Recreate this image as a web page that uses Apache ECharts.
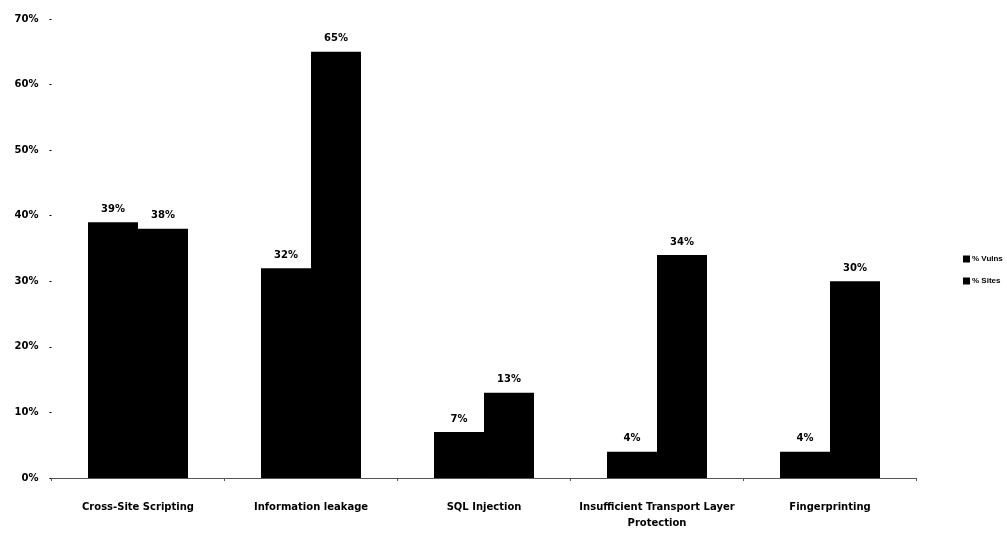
<!DOCTYPE html>
<html>
<head>
<meta charset="utf-8">
<script src="https://cdn.jsdelivr.net/npm/echarts@6/dist/echarts.min.js"></script>
<style>
  html, body { margin: 0; padding: 0; background: #fff; }
  #chart { width: 1007px; height: 534px; }
</style>
</head>
<body>
<div id="chart"></div>
<script>
// Web application vulnerability classes: share of vulnerabilities vs. share of sites
const categories = [
  'Cross-Site Scripting',
  'Information leakage',
  'SQL Injection',
  'Insufficient Transport Layer\nProtection',
  'Fingerprinting'
];
const vulnsPct = [39, 32, 7, 4, 4];
const sitesPct = [38, 65, 13, 34, 30];
const seriesNames = ['% Vulns', '% Sites'];
const yTicks = { min: 0, max: 70, interval: 10 };

const font = '"DejaVu Sans", "Liberation Sans", Arial, sans-serif';
const labelStyle = {
  show: true,
  position: 'top',
  distance: 8,
  formatter: '{c}%',
  color: '#000',
  fontFamily: font,
  fontWeight: 'bold',
  fontSize: 10
};

const chart = echarts.init(document.getElementById('chart'), null, { renderer: 'canvas' });
chart.setOption({
  animation: false,
  backgroundColor: '#fff',
  // 865px plot width -> 173px per category, so bar edges land on whole pixels
  grid: { left: 51.5, right: 90.5, top: 19, bottom: 56, containLabel: false },
  legend: {
    orient: 'vertical',
    left: 958,
    top: 250,
    itemWidth: 7,
    itemHeight: 7,
    itemGap: 14,
    icon: 'rect',
    textStyle: {
      fontFamily: '"Liberation Sans", Arial, sans-serif',
      fontWeight: 'bold', fontSize: 8, color: '#000', padding: [0, 0, 0, -3]
    },
    data: seriesNames
  },
  xAxis: {
    type: 'category',
    data: categories,
    axisLine: { show: true, lineStyle: { color: '#555', width: 1 } },
    axisTick: { show: true, length: 3, lineStyle: { color: '#555' } },
    axisLabel: {
      interval: 0,
      margin: 21,
      color: '#000',
      fontFamily: font,
      fontWeight: 'bold',
      fontSize: 10,
      lineHeight: 16
    }
  },
  yAxis: {
    type: 'value',
    min: yTicks.min,
    max: yTicks.max,
    interval: yTicks.interval,
    splitLine: { show: false },
    axisLine: { show: false },
    axisTick: { show: true, length: 2, lineStyle: { color: '#000' } },
    axisLabel: {
      formatter: '{value}%',
      margin: 13,
      color: '#000',
      fontFamily: font,
      fontWeight: 'bold',
      fontSize: 10
    }
  },
  series: [
    {
      name: seriesNames[0],
      type: 'bar',
      data: vulnsPct,
      barWidth: 50,
      barGap: '0%',
      itemStyle: { color: '#000' },
      label: labelStyle
    },
    {
      name: seriesNames[1],
      type: 'bar',
      data: sitesPct,
      barWidth: 50,
      barGap: '0%',
      itemStyle: { color: '#000' },
      label: labelStyle
    }
  ]
});
</script>
</body>
</html>
